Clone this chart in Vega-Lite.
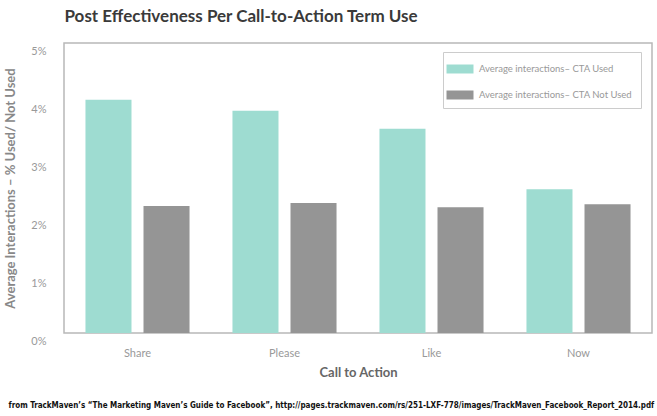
{
  "$schema": "https://vega.github.io/schema/vega-lite/v6.json",
  "width": 588,
  "height": 290,
  "autosize": {"type": "none"},
  "padding": {"left": 64, "top": 43, "right": 5, "bottom": 83},
  "config": {
    "view": {"stroke": "#b8b8b8", "strokeWidth": 1.5},
    "font": "Lato"
  },
  "data": {
    "values": [
      {"cta": "Share", "group": "Average interactions– CTA Used", "value": 0.0402},
      {"cta": "Share", "group": "Average interactions– CTA Not Used", "value": 0.0219},
      {"cta": "Please", "group": "Average interactions– CTA Used", "value": 0.0383},
      {"cta": "Please", "group": "Average interactions– CTA Not Used", "value": 0.0224},
      {"cta": "Like", "group": "Average interactions– CTA Used", "value": 0.0352},
      {"cta": "Like", "group": "Average interactions– CTA Not Used", "value": 0.0217},
      {"cta": "Now", "group": "Average interactions– CTA Used", "value": 0.0248},
      {"cta": "Now", "group": "Average interactions– CTA Not Used", "value": 0.0222}
    ]
  },
  "layer": [
    {
      "mark": {"type": "bar"},
      "encoding": {
        "x": {
          "field": "cta",
          "type": "nominal",
          "sort": ["Share", "Please", "Like", "Now"],
          "scale": {"paddingInner": 0, "paddingOuter": 0},
          "axis": {
            "labelAngle": 0,
            "ticks": false,
            "domain": false,
            "labelFontSize": 11,
            "labelColor": "#999999",
            "labelPadding": 14,
            "title": "Call to Action",
            "titleFontSize": 13,
            "titleColor": "#666666",
            "titleFontWeight": "bold",
            "titlePadding": 8
          }
        },
        "xOffset": {
          "field": "group",
          "type": "nominal",
          "sort": ["Average interactions– CTA Used", "Average interactions– CTA Not Used"],
          "scale": {"paddingInner": 0.207, "paddingOuter": 0.37}
        },
        "y": {
          "field": "value",
          "type": "quantitative",
          "scale": {"domain": [0, 0.05], "nice": false},
          "axis": {
            "values": [0, 0.01, 0.02, 0.03, 0.04, 0.05],
            "format": ".0%",
            "ticks": false,
            "domain": false,
            "grid": false,
            "labelColor": "#999999",
            "labelFontSize": 11,
            "labelPadding": 18,
            "labelOffset": 8,
            "title": "Average Interactions – % Used/ Not Used",
            "titleColor": "#888888",
            "titleFontSize": 13,
            "titleFontWeight": "bold",
            "titlePadding": 13
          }
        },
        "color": {
          "field": "group",
          "type": "nominal",
          "scale": {
            "domain": ["Average interactions– CTA Used", "Average interactions– CTA Not Used"],
            "range": ["#9edcd1", "#959595"]
          },
          "legend": {
            "title": null,
            "orient": "none",
            "legendX": 379,
            "legendY": 9,
            "padding": 8,
            "strokeColor": "#cccccc",
            "fillColor": "white",
            "labelFontSize": 9.5,
            "labelColor": "#999999",
            "symbolType": "M-1.5,-0.5H1.5V0.5H-1.5Z",
            "symbolSize": 324,
            "symbolStrokeWidth": 0,
            "rowPadding": 12,
            "labelOffset": 10
          }
        }
      }
    },
    {
      "mark": {"type": "bar", "opacity": 0},
      "encoding": {
        "x": {
          "field": "cta",
          "type": "nominal",
          "sort": ["Share", "Please", "Like", "Now"],
          "axis": {
            "orient": "top",
            "labels": false,
            "ticks": false,
            "domain": false,
            "title": "Post Effectiveness Per Call-to-Action Term Use",
            "titleFont": "Lato",
            "titleFontSize": 17,
            "titleFontWeight": "bold",
            "titleColor": "#3a3a3a",
            "titleAnchor": "start",
            "titleAlign": "left",
            "titleBaseline": "middle",
            "titleX": 0,
            "titleY": -27,
            "titleLimit": 1000
          }
        },
        "y": {"field": "value", "type": "quantitative"}
      }
    },
    {
      "mark": {"type": "bar", "opacity": 0},
      "encoding": {
        "x": {
          "field": "cta",
          "type": "nominal",
          "sort": ["Share", "Please", "Like", "Now"],
          "axis": {
            "orient": "bottom",
            "labels": false,
            "ticks": false,
            "domain": false,
            "title": "from TrackMaven’s “The Marketing Maven’s Guide to Facebook”,  http://pages.trackmaven.com/rs/251-LXF-778/images/TrackMaven_Facebook_Report_2014.pdf",
            "titleFont": "DejaVu Sans Condensed",
            "titleFontSize": 8,
            "titleFontWeight": "bold",
            "titleColor": "#111111",
            "titleAnchor": "start",
            "titleAlign": "left",
            "titleBaseline": "middle",
            "titleX": -56,
            "titleY": 72,
            "titleLimit": 1000
          }
        },
        "y": {"field": "value", "type": "quantitative"}
      }
    }
  ],
  "resolve": {"scale": {"x": "independent"}, "axis": {"x": "independent"}}
}
